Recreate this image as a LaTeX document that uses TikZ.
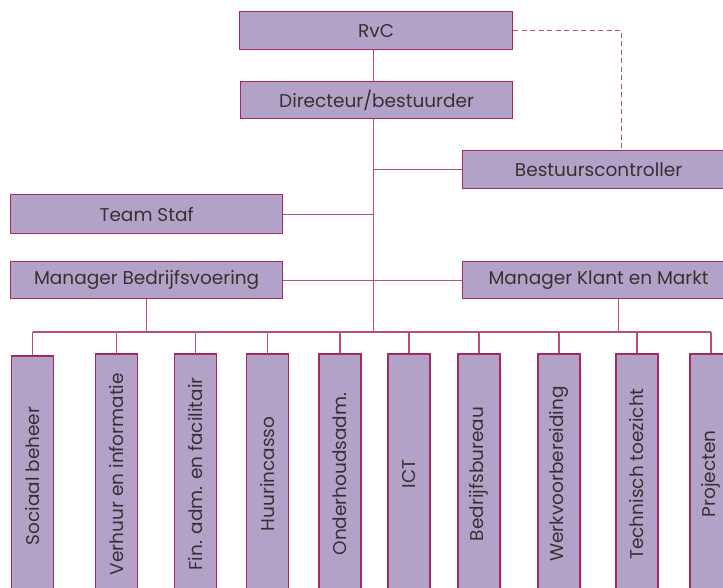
\documentclass[tikz,border=0pt]{standalone}
\usepackage{fontspec}
\setmainfont{Poppins}
\usetikzlibrary{positioning}
\definecolor{boxfill}{RGB}{179,162,199}
\definecolor{boxline}{RGB}{165,40,95}
\definecolor{wire}{RGB}{190,75,120}

\begin{document}
\begin{tikzpicture}[
  x=1pt, y=-1pt,
  font=\fontsize{18.5}{20}\selectfont,
  box/.style={draw=boxline, fill=boxfill, text=black!80, line width=1.2pt, inner sep=0pt, minimum width=272pt, minimum height=38pt, anchor=north west},
  unit/.style={draw=boxline, fill=boxfill, text=black!80, line width=1.2pt, inner sep=0pt, rotate=90, minimum width=240pt, minimum height=42pt},
  link/.style={draw=wire, line width=1.2pt}
]
\useasboundingbox (0,0) rectangle (723,587);
\coordinate (bus) at (0,332);
\node[box, minimum width=273pt] (rvc) at (239,11) {RvC};
\node[box, minimum height=37pt] (dir) at (240,81) {Directeur/bestuurder};
\node[box] (ctrl) at (462,150) {Bestuurscontroller};
\node[box, minimum height=39pt] (staf) at (10,194) {Team Staf};
\node[box, minimum height=37pt] (mbv) at (10,261) {Manager Bedrijfsvoering};
\node[box, minimum height=37pt] (mkm) at (462,261) {Manager Klant en Markt};
\node[unit] (u1) at (32.5,476) {Sociaal beheer};
\node[unit] (u2) at (116.5,474) {Verhuur en informatie};
\node[unit] (u3) at (195.5,474) {Fin. adm. en facilitair};
\node[unit] (u4) at (267.5,474) {Huurincasso};
\node[unit] (u5) at (340,474) {Onderhoudsadm.};
\node[unit] (u6) at (409,474) {ICT};
\node[unit] (u7) at (479,474) {Bedrijfsbureau};
\node[unit] (u8) at (559,474) {Werkvoorbereiding};
\node[unit] (u9) at (637,474) {Technisch toezicht};
\node[unit] (u10) at (711,474) {Projecten};
\coordinate (spine) at ([xshift=-3pt]dir.south);
% top of the tree
\draw[link] (rvc.south -| spine) -- (dir.north -| spine);
\draw[link, dash pattern=on 5pt off 3.5pt] (rvc.east) -| ([xshift=23pt]ctrl.north);
\draw[link] (spine) -- (spine |- bus);
\draw[link] (ctrl.west) -- (ctrl.west -| spine);
\draw[link] (staf.east) -- (staf.east -| spine);
\draw[link] (mbv.east) -- (mkm.west);
% managers to the units
\draw[link] (mbv.south) -- (mbv.south |- bus);
\draw[link] ([xshift=20pt]mkm.south) -- ([xshift=20pt]mkm.south |- bus);
\draw[link] (u1.east |- bus) -- (u10.east |- bus);
\foreach \i in {1,...,10}
  \draw[link] (u\i.east) -- (u\i.east |- bus);
\end{tikzpicture}
\end{document}
